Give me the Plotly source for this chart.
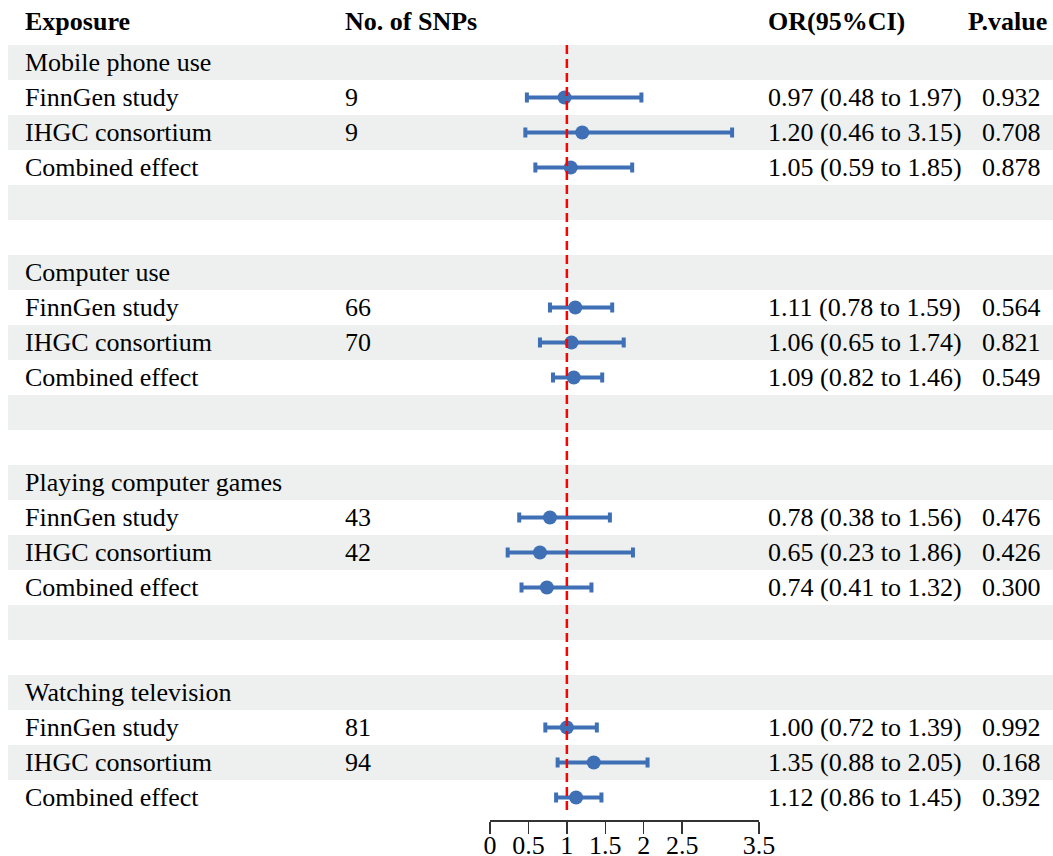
import plotly.graph_objects as go

# ---- data ----
groups = ["Mobile phone use", "Computer use", "Playing computer games", "Watching television"]
sources = ["FinnGen study", "IHGC consortium", "Combined effect"]
n_snps = [["9", "9", ""], ["66", "70", ""], ["43", "42", ""], ["81", "94", ""]]
or_est = [[0.97, 1.20, 1.05], [1.11, 1.06, 1.09], [0.78, 0.65, 0.74], [1.00, 1.35, 1.12]]
ci_low = [[0.48, 0.46, 0.59], [0.78, 0.65, 0.82], [0.38, 0.23, 0.41], [0.72, 0.88, 0.86]]
ci_high = [[1.97, 3.15, 1.85], [1.59, 1.74, 1.46], [1.56, 1.86, 1.32], [1.39, 2.05, 1.45]]
p_values = [["0.932", "0.708", "0.878"], ["0.564", "0.821", "0.549"],
            ["0.476", "0.426", "0.300"], ["0.992", "0.168", "0.392"]]
headers = ["Exposure", "No. of SNPs", "OR(95%CI)", "P.value"]
tick_vals = [0, 0.5, 1, 1.5, 2, 2.5, 3.5]
tick_text = ["0", "0.5", "1", "1.5", "2", "2.5", "3.5"]

W, H = 1053, 856
FONT = "Liberation Serif"
FS = 26
BLUE = "#3f6fb5"
BAND = "#edf0ef"

col_x = {"exp": 23, "snp": 343, "or": 766, "p": 980}
head_x = [23, 343, 766, 966]

def px(x):
    return x / W

annotations = []
shapes = []

# header
for h, hx in zip(headers, head_x):
    annotations.append(dict(text="<b>%s</b>" % h, x=px(hx), xref="paper", xanchor="left",
                            y=-0.16, yref="y", yanchor="middle", showarrow=False,
                            font=dict(family=FONT, size=FS, color="black")))

xs, ys, em, ep = [], [], [], []
n_rows = 22
for g, gname in enumerate(groups):
    base = 1 + g * 6
    annotations.append(dict(text=gname, x=px(col_x["exp"]), xref="paper", xanchor="left",
                            y=base, yref="y", yanchor="middle", showarrow=False,
                            font=dict(family=FONT, size=FS, color="black")))
    for k, s in enumerate(sources):
        r = base + 1 + k
        annotations.append(dict(text=s, x=px(col_x["exp"]), xref="paper", xanchor="left",
                                y=r, yref="y", yanchor="middle", showarrow=False,
                                font=dict(family=FONT, size=FS, color="black")))
        if n_snps[g][k]:
            annotations.append(dict(text=n_snps[g][k], x=px(col_x["snp"]), xref="paper", xanchor="left",
                                    y=r, yref="y", yanchor="middle", showarrow=False,
                                    font=dict(family=FONT, size=FS, color="black")))
        txt = "%.2f (%.2f to %.2f)" % (or_est[g][k], ci_low[g][k], ci_high[g][k])
        annotations.append(dict(text=txt, x=px(col_x["or"]), xref="paper", xanchor="left",
                                y=r, yref="y", yanchor="middle", showarrow=False,
                                font=dict(family=FONT, size=FS, color="black")))
        annotations.append(dict(text=p_values[g][k], x=px(col_x["p"]), xref="paper", xanchor="left",
                                y=r, yref="y", yanchor="middle", showarrow=False,
                                font=dict(family=FONT, size=FS, color="black")))
        xs.append(or_est[g][k]); ys.append(r)
        em.append(or_est[g][k] - ci_low[g][k]); ep.append(ci_high[g][k] - or_est[g][k])

# shaded bands on odd rows
for r in range(1, n_rows + 1, 2):
    shapes.append(dict(type="rect", xref="paper", x0=px(8), x1=1, yref="y", y0=r - 0.5, y1=r + 0.5,
                       fillcolor=BAND, line=dict(width=0), layer="below"))

# reference line at OR = 1
shapes.append(dict(type="line", xref="x", x0=1, x1=1, yref="y", y0=0.5, y1=22.42,
                   line=dict(color="#ff0000", width=2.5, dash="9px,5px"), layer="above"))

fig = go.Figure()
fig.add_trace(go.Scatter(
    x=xs, y=ys, mode="markers",
    marker=dict(color=BLUE, size=14, symbol="circle"),
    error_x=dict(type="data", symmetric=False, array=ep, arrayminus=em,
                 color=BLUE, thickness=4, width=5),
    cliponaxis=False, showlegend=False, hoverinfo="skip"))

plot_h = 820
y_top = (0 - 27.5) / 35
y_bot = (plot_h - 27.5) / 35

fig.update_layout(
    template="none",
    width=W, height=H, autosize=False,
    margin=dict(l=0, r=0, t=0, b=0, pad=0, autoexpand=False),
    paper_bgcolor="white", plot_bgcolor="rgba(0,0,0,0)",
    showlegend=False,
    annotations=annotations, shapes=shapes,
    xaxis=dict(domain=[px(490), px(759)], range=[0, 3.5], tickvals=tick_vals, ticktext=tick_text,
               ticks="outside", ticklen=12, tickwidth=1.5, tickcolor="#333",
               showline=True, linecolor="#333", linewidth=1.5, automargin=False,
               showgrid=False, zeroline=False, ticklabelstandoff=-11,
               tickfont=dict(family=FONT, size=26, color="black"), anchor="y"),
    yaxis=dict(domain=[(H - plot_h) / H, 1], range=[y_bot, y_top], visible=False,
               automargin=False, showgrid=False, zeroline=False),
)

fig.write_html("out.html", config={"displayModeBar": False, "staticPlot": True},
               post_script="document.body.style.margin='0';document.body.style.overflow='hidden';")
